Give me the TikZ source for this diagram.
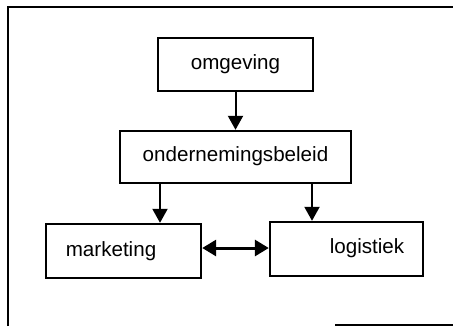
\documentclass[tikz,border=0pt]{standalone}
\usepackage{fontspec}
\setmainfont{Liberation Sans}
\usetikzlibrary{arrows.meta,fit}
\begin{document}
\begin{tikzpicture}[x=0.5pt,y=-0.5pt,
  box/.style={draw,line width=1.2pt,inner sep=0pt,rectangle},
  lbl/.style={font=\fontsize{10.3}{12}\selectfont,inner sep=0pt},
  arr/.style={line width=1pt,-{Triangle[length=7pt,width=7.5pt]}},
  dbl/.style={line width=1.5pt,{Triangle[length=7pt,width=8pt]}-{Triangle[length=7pt,width=8pt]}},
  frame/.style={line width=1.1pt}]
\useasboundingbox (0,0) rectangle (453,327);
% frame
\coordinate (f1) at (8,326);
\coordinate (f2) at (8,7);
\coordinate (f3) at (453,7);
\coordinate (f4) at (335,325);
\coordinate (f5) at (453,325);
\draw[frame] (f1) -- (f2) -- (f3);
\draw[frame] (f4) -- (f5);
% boxes
\node[box,fit={(158,38)(313,91)}] (omg) {};
\node[box,fit={(120,131)(351,183)}] (bel) {};
\node[box,fit={(46,224)(201,278)}] (mkt) {};
\node[box,fit={(270,222)(423,276)}] (log) {};
% labels
\node[lbl] (tomg) at (235.5,64) {omgeving};
\node[lbl] (tbel) at (235.5,156) {ondernemingsbeleid};
\node[lbl] (tmkt) at (111,251) {marketing};
\node[lbl] (tlog) at (367,248) {logistiek};
% connectors
\draw[arr] (omg.south) -- (bel.north);
\draw[arr] (bel.south -| 160,0) -- (mkt.north -| 160,0);
\draw[arr] (bel.south -| 312,0) -- (log.north -| 312,0);
\draw[dbl] (mkt.east |- 0,248) -- (log.west |- 0,248);
\end{tikzpicture}
\end{document}
